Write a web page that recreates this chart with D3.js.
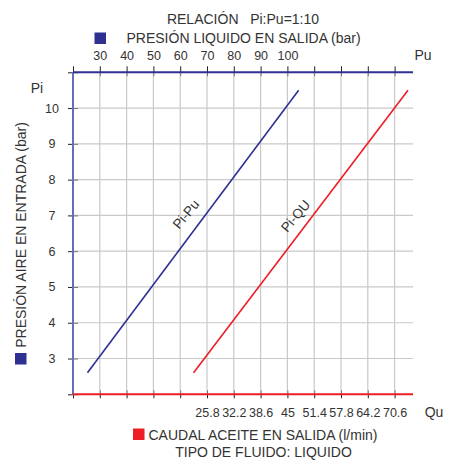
<!DOCTYPE html>
<html>
<head>
<meta charset="utf-8">
<script src="https://cdn.jsdelivr.net/npm/d3@7"></script>
<style>
  body { margin: 0; background: #fff; }
  svg text { font-family: "Liberation Sans", Arial, sans-serif; fill: #333; }
</style>
</head>
<body>
<svg id="chart" width="452" height="460"></svg>
<script>
// tick labels of the three axes
const puTicks = [20, 30, 40, 50, 60, 70, 80, 90, 100, 110, 120, 130, 140]
const puLabels = [30, 40, 50, 60, 70, 80, 90, 100]
const quTicks = [-6.2, 0.2, 6.6, 13, 19.4, 25.8, 32.2, 38.6, 45, 51.4, 57.8, 64.2, 70.6]
const quLabels = [25.8, 32.2, 38.6, 45, 51.4, 57.8, 64.2, 70.6]
const piTicks = [2, 3, 4, 5, 6, 7, 8, 9, 10, 11]
const piLabels = [3, 4, 5, 6, 7, 8, 9, 10]

// series: inlet air pressure vs outlet liquid pressure / oil flow
const piValues = [2.6, 10.5]
const puValues = [25.4, 104.2]
const quValues = [22.6, 73.8]

const blue = "#2e3192"
const red = "#ee1c24"

// plot frame
const frame = { left: 73, right: 394.6, axisEnd: 413, top: 72.3, bottom: 394.3 }

const svg = d3.select("#chart")

// x scales share the same pixel grid, y scale for Pi
const xPu = d3.scaleLinear().domain([20, 140]).range([frame.left, frame.right])
const xQu = d3.scaleLinear().domain([-6.2, 70.6]).range([frame.left, frame.right])
const yPi = d3.scaleLinear().domain([2, 11]).range([frame.bottom, frame.top])

// grid lines first
const grid = svg.append("g").attr("stroke", "#c9c9c9").attr("stroke-width", 1.2)
grid.selectAll(".vgrid")
  .data(puTicks.slice(1))
  .join("line")
  .attr("x1", (d) => xPu(d)).attr("x2", (d) => xPu(d))
  .attr("y1", frame.top).attr("y2", frame.bottom)
grid.selectAll(".hgrid")
  .data(piLabels)
  .join("line")
  .attr("x1", frame.left).attr("x2", frame.axisEnd)
  .attr("y1", (d) => yPi(d)).attr("y2", (d) => yPi(d))

// top axis (Pu)
const topAxis = d3.axisTop(xPu)
  .tickValues(puTicks)
  .tickSize(6)
  .tickPadding(6)
  .tickFormat((d) => (puLabels.includes(d) ? d : ""))
const gTop = svg.append("g").attr("transform", `translate(0,${frame.top})`).call(topAxis)
gTop.select(".domain").remove()
gTop.selectAll("line").attr("stroke", "#222")
gTop.selectAll("text").style("font-size", "12.5px").attr("fill", "#333")
svg.append("g").attr("transform", `translate(0,${frame.top})`)
  .call(d3.axisBottom(xPu).tickValues(puTicks).tickSize(4).tickFormat(""))
  .call((g) => g.select(".domain").remove())
  .selectAll("line").attr("stroke", "#777")

// bottom axis (Qu)
const bottomAxis = d3.axisBottom(xQu)
  .tickValues(quTicks)
  .tickSize(4)
  .tickPadding(10)
  .tickFormat((d) => (quLabels.includes(d) ? d : ""))
const gBottom = svg.append("g").attr("transform", `translate(0,${frame.bottom})`).call(bottomAxis)
gBottom.select(".domain").remove()
gBottom.selectAll("line").attr("stroke", "#222")
gBottom.selectAll("text").style("font-size", "12.5px").attr("fill", "#333")
svg.append("g").attr("transform", `translate(0,${frame.bottom})`)
  .call(d3.axisTop(xQu).tickValues(quTicks).tickSize(4).tickFormat(""))
  .call((g) => g.select(".domain").remove())
  .selectAll("line").attr("stroke", "#777")

// left axis (Pi)
const leftAxis = d3.axisLeft(yPi)
  .tickValues(piTicks)
  .tickSize(5)
  .tickFormat((d) => (piLabels.includes(d) ? d : ""))
const gLeft = svg.append("g").attr("transform", `translate(${frame.left},0)`).call(leftAxis)
gLeft.select(".domain").remove()
gLeft.selectAll("line").attr("stroke", "#222")
gLeft.selectAll("text")
  .attr("x", -21)
  .attr("text-anchor", "middle")
  .style("font-size", "12.5px")
  .attr("fill", "#333")
svg.append("g").attr("transform", `translate(${frame.left},0)`)
  .call(d3.axisRight(yPi).tickValues(piTicks).tickSize(5).tickFormat(""))
  .call((g) => g.select(".domain").remove())
  .selectAll("line").attr("stroke", "#777")

// axis lines
svg.append("line")
  .attr("x1", frame.left).attr("x2", frame.left).attr("y1", frame.top).attr("y2", frame.bottom)
  .attr("stroke", "#6b6bbd").attr("stroke-width", 2)
svg.append("line")
  .attr("x1", frame.left).attr("x2", frame.axisEnd).attr("y1", frame.top).attr("y2", frame.top)
  .attr("stroke", blue).attr("stroke-width", 2)
svg.append("line")
  .attr("x1", frame.left).attr("x2", frame.axisEnd).attr("y1", frame.bottom).attr("y2", frame.bottom)
  .attr("stroke", red).attr("stroke-width", 2)

// data lines
const puData = piValues.map((p, i) => ({ pi: p, v: puValues[i] }))
const quData = piValues.map((p, i) => ({ pi: p, v: quValues[i] }))
svg.append("path")
  .datum(puData)
  .attr("fill", "none").attr("stroke", blue).attr("stroke-width", 1.6)
  .attr("d", d3.line().x((d) => xPu(d.v)).y((d) => yPi(d.pi)))
svg.append("path")
  .datum(quData)
  .attr("fill", "none").attr("stroke", red).attr("stroke-width", 1.6)
  .attr("d", d3.line().x((d) => xQu(d.v)).y((d) => yPi(d.pi)))

// line captions
svg.append("text")
  .attr("transform", `translate(${xPu(63.5)},${yPi(6.95)}) rotate(-50)`)
  .attr("text-anchor", "middle")
  .style("font-size", "13.5px")
  .text("Pi-Pu")
svg.append("text")
  .attr("transform", `translate(${xQu(47.8)},${yPi(6.9)}) rotate(-50)`)
  .attr("text-anchor", "middle")
  .style("font-size", "13.5px")
  .text("Pi-QU")

// axis names
svg.append("text").attr("x", 37).attr("y", 93).attr("text-anchor", "middle")
  .style("font-size", "14px").text("Pi")
svg.append("text").attr("x", 423).attr("y", 60).attr("text-anchor", "middle")
  .style("font-size", "14px").text("Pu")
svg.append("text").attr("x", 434).attr("y", 417).attr("text-anchor", "middle")
  .style("font-size", "14px").text("Qu")

// titles & legends
svg.append("text").attr("x", 243).attr("y", 24).attr("text-anchor", "middle")
  .style("font-size", "14px").attr("xml:space", "preserve").text("RELACIÓN   Pi:Pu=1:10")
svg.append("rect").attr("x", 94.5).attr("y", 32.5).attr("width", 11.5).attr("height", 11.5).attr("fill", blue)
svg.append("text").attr("x", 126.5).attr("y", 43).style("font-size", "14px")
  .text("PRESIÓN LIQUIDO EN SALIDA (bar)")

svg.append("rect").attr("x", 133).attr("y", 428.5).attr("width", 11.5).attr("height", 11.5).attr("fill", red)
svg.append("text").attr("x", 148.5).attr("y", 440).style("font-size", "14px")
  .text("CAUDAL ACEITE EN SALIDA (l/min)")
svg.append("text").attr("x", 263.5).attr("y", 457).attr("text-anchor", "middle")
  .style("font-size", "14px").text("TIPO DE FLUIDO: LIQUIDO")

svg.append("rect").attr("x", 15).attr("y", 353).attr("width", 11.5).attr("height", 11.5).attr("fill", blue)
svg.append("text")
  .attr("transform", "translate(26,235) rotate(-90)")
  .attr("text-anchor", "middle")
  .style("font-size", "14px")
  .text("PRESIÓN AIRE EN ENTRADA (bar)")
</script>
</body>
</html>
